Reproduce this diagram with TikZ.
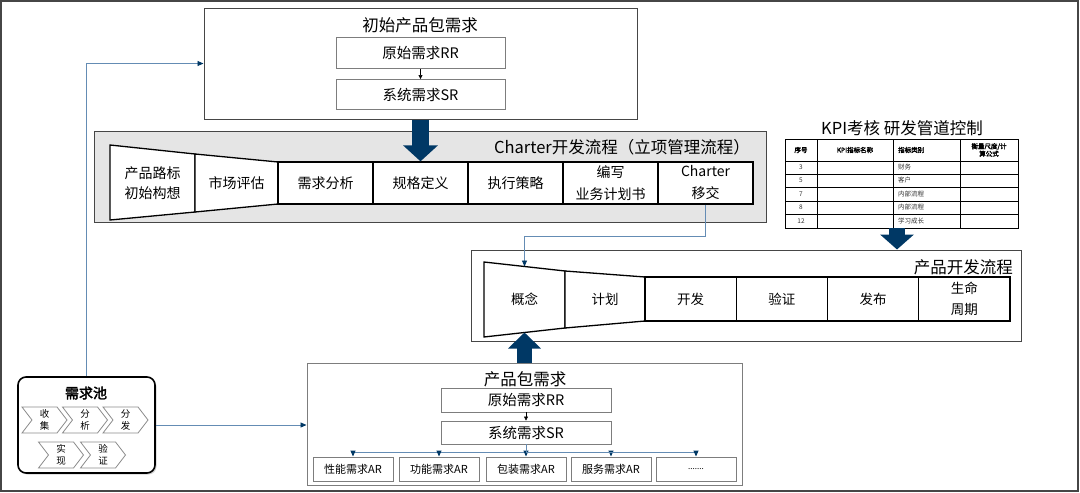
\documentclass[tikz,border=0pt]{standalone}
\usepackage{fontspec}
\setmainfont{Noto Sans CJK SC}
\newfontfamily\boldfont{Noto Sans CJK SC}[FakeBold=2.5]
\usepackage{tikz}
\usepackage{xcolor}
\usetikzlibrary{arrows.meta,shapes.symbols,shadows}

\begin{document}
\begin{tikzpicture}[x=1pt,y=-1pt,
  panel/.style={draw=frameGray,line width=1pt,inner sep=0pt},
  reqbox/.style={draw=lineGray,line width=0.9pt,fill=white,inner sep=0pt,minimum width=169pt,font=\fontsize{14.5}{17}\selectfont},
  arbox/.style={draw=lineGray,line width=0.9pt,fill=white,inner sep=0pt,minimum width=80pt,minimum height=24pt,font=\fontsize{11}{13}\selectfont},
  stage/.style={draw=black,line width=1.3pt,fill=white,inner sep=0pt,minimum width=95pt,minimum height=42pt,align=center,font=\fontsize{14}{22}\selectfont},
  pdstage/.style={stage,minimum width=91.25pt,minimum height=44pt,font=\fontsize{13.5}{21}\selectfont},
  trap/.style={draw=black,line width=1.3pt,fill=white},
  traptext/.style={inner sep=0pt,align=center,font=\fontsize{14}{20}\selectfont},
  headtext/.style={inner sep=0pt,font=\fontsize{16.5}{19}\selectfont},
  link/.style={draw=linkBlue,line width=0.9pt,-{Triangle[length=6pt,width=5pt,color=navy]}},
  bigarrow/.style={draw=navy},
  chev/.style={signal,signal from=west,signal to=east,signal pointer angle=105,draw=chevGray,line width=0.8pt,fill=white,minimum width=45pt,minimum height=26pt,inner sep=0pt,align=center,font=\fontsize{9.5}{12}\selectfont},
  cell/.style={inner sep=0pt,text=black!80,font=\fontsize{6.5}{8}\selectfont},
  headcell/.style={inner sep=0pt,align=center,font=\boldfont\fontsize{6.5}{7.5}\selectfont}]
\definecolor{navy}{RGB}{0,56,101}
\definecolor{linkBlue}{RGB}{100,140,180}
\definecolor{lineGray}{RGB}{125,125,125}
\definecolor{frameGray}{RGB}{70,70,70}
\definecolor{panelGray}{RGB}{229,229,229}
\definecolor{chevGray}{RGB}{140,140,140}
\useasboundingbox (0,0) rectangle (1080,493);
\draw[line width=1.2pt,frameGray] (1,1) rectangle (1078,491);

\node[panel,fill=white,minimum width=433pt,minimum height=111pt] (pkg0) at (420.5,63.5) {};
\node[headtext] (pkg0-title) at (420,25) {初始产品包需求};
\node[reqbox,minimum height=31pt] (rr0) at (420.5,53) {原始需求RR};
\node[reqbox,minimum height=30pt] (sr0) at (420.5,94.5) {系统需求SR};
\draw[line width=0.6pt,-{Triangle[length=4pt,width=4pt]}] (rr0) -- (sr0);

\node[panel,fill=panelGray,minimum width=672pt,minimum height=91pt] (charter) at (430,176.5) {};
\node[headtext,anchor=east] (charter-title) at (750,147) {Charter开发流程（立项管理流程）};
\draw[trap] (110,145) -- (195,154) -- (195,212) -- (110,220) -- cycle;
\draw[trap] (195,154) -- (278,162) -- (278,204) -- (195,212) -- cycle;
\node[traptext] (ch1) at (152.5,183) {产品路标\\初始构想};
\node[traptext] (ch2) at (236.5,183) {市场评估};
\node[stage] (ch3) at (325.5,183) {需求分析};
\node[stage] (ch4) at (420.5,183) {规格定义};
\node[stage] (ch5) at (515.5,183) {执行策略};
\node[stage] (ch6) at (610.5,183) {编写\\业务计划书};
\node[stage] (ch7) at (705.5,183) {Charter\\移交};
\draw[bigarrow,line width=17pt,-{Triangle[length=16pt,width=34pt]}] (pkg0.south) -- (ch4.north);

\node[headtext] (kpi-title) at (902,128) {KPI考核 研发管道控制};
\node[draw,line width=0.9pt,inner sep=0pt,minimum width=233pt,minimum height=89pt] (kpitab) at (901.5,183.5) {};
\draw[line width=0.9pt] (817,139) -- (817,228);
\draw[line width=0.9pt] (893,139) -- (893,228);
\draw[line width=0.9pt] (960,139) -- (960,228);
\draw[line width=0.9pt] (785,161) -- (1018,161);
\draw[line width=0.9pt] (785,174) -- (1018,174);
\draw[line width=0.9pt] (785,187) -- (1018,187);
\draw[line width=0.9pt] (785,201) -- (1018,201);
\draw[line width=0.9pt] (785,214) -- (1018,214);
\node[headcell] (kh1) at (801,150) {序号};
\node[headcell] (kh2) at (855,150) {KPI指标名称};
\node[headcell,anchor=west] (kh3) at (898,150) {指标类别};
\node[headcell] (kh4) at (989,150) {衡量尺度/计\\算公式};
\node[cell] (kn1) at (801,167.5) {3};
\node[cell] (kn2) at (801,180.5) {5};
\node[cell] (kn3) at (801,194) {7};
\node[cell] (kn4) at (801,207.5) {8};
\node[cell] (kn5) at (801,221) {12};
\node[cell,anchor=west] (kc1) at (898,167.5) {财务};
\node[cell,anchor=west] (kc2) at (898,180.5) {客户};
\node[cell,anchor=west] (kc3) at (898,194) {内部流程};
\node[cell,anchor=west] (kc4) at (898,207.5) {内部流程};
\node[cell,anchor=west] (kc5) at (898,221) {学习成长};

\node[panel,fill=white,minimum width=550pt,minimum height=91pt] (pdev) at (746,295.5) {};
\node[headtext,anchor=east] (pdev-title) at (1013,267) {产品开发流程};
\draw[trap] (484,262) -- (565,271) -- (565,328) -- (484,337) -- cycle;
\draw[trap] (565,271) -- (645,277) -- (645,321) -- (565,328) -- cycle;
\node[traptext,font=\fontsize{13.5}{20}\selectfont] (pd1) at (524.5,299.5) {概念};
\node[traptext,font=\fontsize{13.5}{20}\selectfont] (pd2) at (605,299) {计划};
\node[pdstage] (pd3) at (690.6,299) {开发};
\node[pdstage] (pd4) at (781.9,299) {验证};
\node[pdstage] (pd5) at (873.1,299) {发布};
\node[pdstage] (pd6) at (964.4,299) {生命\\周期};
\coordinate (gn-top) at (524.5,266.5);
\coordinate (gn-bot) at (524.5,332.5);
\coordinate (kpi-out) at (897,228);
\draw[bigarrow,line width=16pt,-{Triangle[length=15pt,width=33pt]}] (kpi-out) -- (kpi-out |- pdev.north);
\draw[link] (ch7.south) -- ++(0,32) -| (gn-top);

\node[panel,draw=lineGray,fill=white,minimum width=435pt,minimum height=122pt] (pkg1) at (524.5,424) {};
\node[headtext] (pkg1-title) at (525,379) {产品包需求};
\node[reqbox,minimum width=170pt,minimum height=24pt] (rr1) at (526,400) {原始需求RR};
\node[reqbox,minimum width=170pt,minimum height=23pt] (sr1) at (526,432.5) {系统需求SR};
\draw[line width=0.6pt,-{Triangle[length=4pt,width=4pt]}] (rr1) -- (sr1);
\node[arbox] (ar1) at (353,469) {性能需求AR};
\node[arbox] (ar2) at (439,469) {功能需求AR};
\node[arbox] (ar3) at (526,469) {包装需求AR};
\node[arbox] (ar4) at (611,469) {服务需求AR};
\node[arbox,font=\fontsize{8}{9}\selectfont] (ar5) at (696,469) {.......};
\draw[link] (sr1.south) -- ++(0,7.5) -| (ar1.north);
\draw[link] (sr1.south) -- ++(0,7.5) -| (ar2.north);
\draw[link] (sr1.south) -- (ar3.north);
\draw[link] (sr1.south) -- ++(0,7.5) -| (ar4.north);
\draw[link] (sr1.south) -- ++(0,7.5) -| (ar5.north);
\draw[bigarrow,line width=15pt,-{Triangle[length=16pt,width=32pt]}] (pkg1.north) -- (gn-bot);

\node[draw=black,line width=1.6pt,rounded corners=8pt,fill=white,drop shadow={opacity=0.35,shadow xshift=1.5pt,shadow yshift=-1.5pt},minimum width=137pt,minimum height=96pt] (pool) at (86.5,425) {};
\node[inner sep=0pt,font=\boldfont\fontsize{14}{16}\selectfont] (pool-title) at (86,393) {需求池};
\node[chev] (c1) at (44.5,420) {收\\集};
\node[chev] (c2) at (85,420) {分\\析};
\node[chev] (c3) at (125.5,420) {分\\发};
\node[chev] (c4) at (61,455) {实\\现};
\node[chev] (c5) at (103,455) {验\\证};
\draw[link] (pool.north) |- (pkg0.west);
\draw[link] (pool.east) -- (pool.east -| pkg1.west);
\end{tikzpicture}
\end{document}
